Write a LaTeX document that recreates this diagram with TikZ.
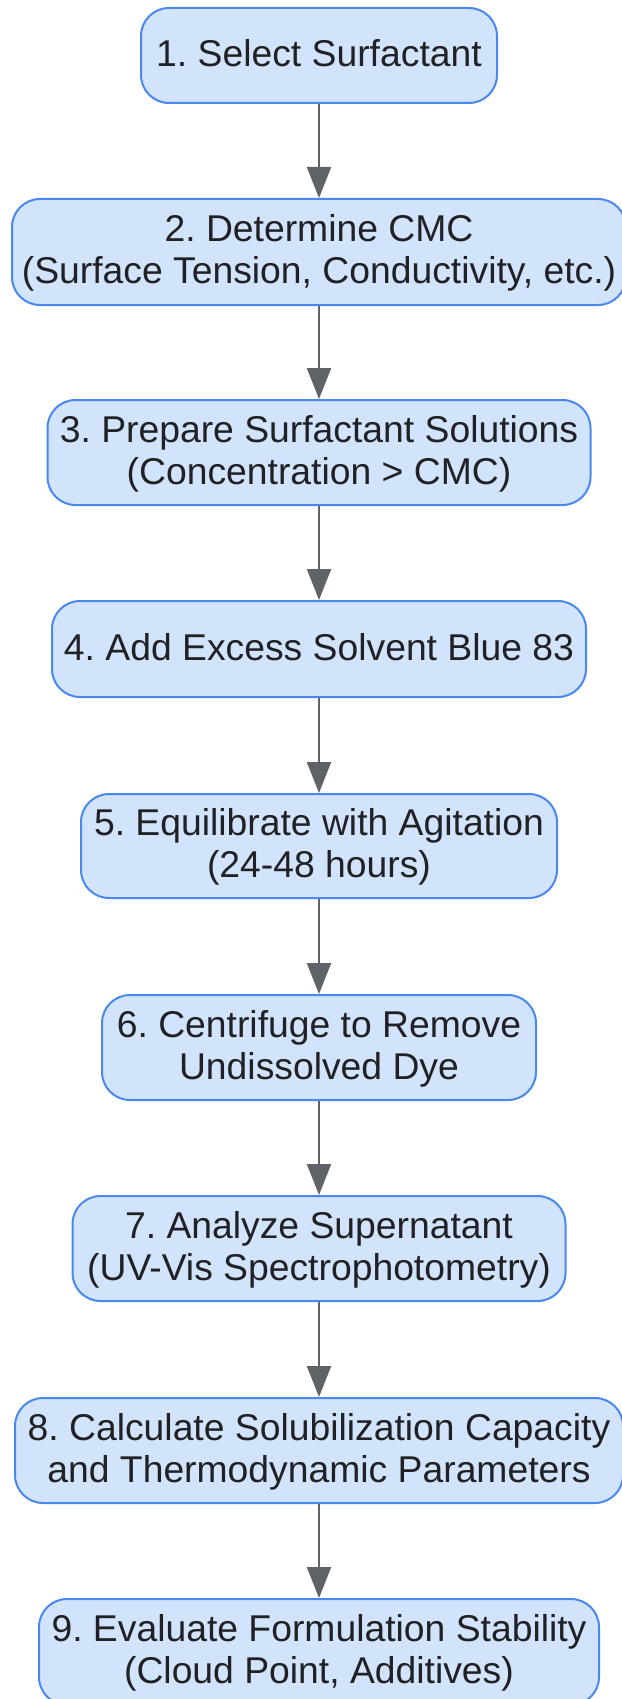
\documentclass[tikz,border=0pt]{standalone}
\usepackage{fontspec}
\setmainfont{Liberation Sans}
\frenchspacing
\usepackage{tikz}
\usetikzlibrary{arrows.meta}
\definecolor{boxfill}{HTML}{D2E3FC}
\definecolor{boxline}{HTML}{4A88EE}
\definecolor{flowgray}{HTML}{5F6368}
\definecolor{inktext}{HTML}{202124}
\newcommand{\stst}{\rule[-6.5pt]{0pt}{35.5pt}}
\tikzset{
  stepbox/.style={draw=boxline, fill=boxfill, line width=2pt, rounded corners=28pt,
    align=center, inner sep=0pt, text=inktext,
    font=\fontsize{37.3}{42}\selectfont},
  flow/.style={draw=flowgray, line width=2.2pt, -{Triangle[length=31pt,width=24pt]}}
}

\begin{document}
\begin{tikzpicture}[x=1pt,y=1pt]
\useasboundingbox (0,0) rectangle (621,-1699);
\node[stepbox, minimum width=356pt, minimum height=95pt] (select) at (319,-55.5) {\stst 1. Select Surfactant};
\node[stepbox, minimum width=614pt, minimum height=106pt] (cmc) at (319,-252) {\stst 2. Determine CMC\\\stst (Surface Tension, Conductivity, etc.)};
\node[stepbox, minimum width=543pt, minimum height=105pt] (prep) at (319,-452.5) {\stst 3. Prepare Surfactant Solutions\\\stst (Concentration > CMC)};
\node[stepbox, minimum width=534pt, minimum height=96pt] (adddye) at (319,-649) {\stst 4. Add Excess Solvent Blue 83};
\node[stepbox, minimum width=476pt, minimum height=104pt] (equil) at (319,-846) {\stst 5. Equilibrate with Agitation\\\stst (24-48 hours)};
\node[stepbox, minimum width=434pt, minimum height=105pt] (centri) at (319,-1047.5) {\stst 6. Centrifuge to Remove\\\stst Undissolved Dye};
\node[stepbox, minimum width=493pt, minimum height=105pt] (analyze) at (319,-1248.5) {\stst 7. Analyze Supernatant\\\stst (UV-Vis Spectrophotometry)};
\node[stepbox, minimum width=608pt, minimum height=105pt] (calc) at (319,-1450.5) {\stst 8. Calculate Solubilization Capacity\\\stst and Thermodynamic Parameters};
\node[stepbox, minimum width=560pt, minimum height=106pt] (evaluate) at (319,-1652) {\stst 9. Evaluate Formulation Stability\\\stst (Cloud Point, Additives)};

\draw[flow] (select) -- (cmc);
\draw[flow] (cmc) -- (prep);
\draw[flow] (prep) -- (adddye);
\draw[flow] (adddye) -- (equil);
\draw[flow] (equil) -- (centri);
\draw[flow] (centri) -- (analyze);
\draw[flow] (analyze) -- (calc);
\draw[flow] (calc) -- (evaluate);
\end{tikzpicture}
\end{document}
